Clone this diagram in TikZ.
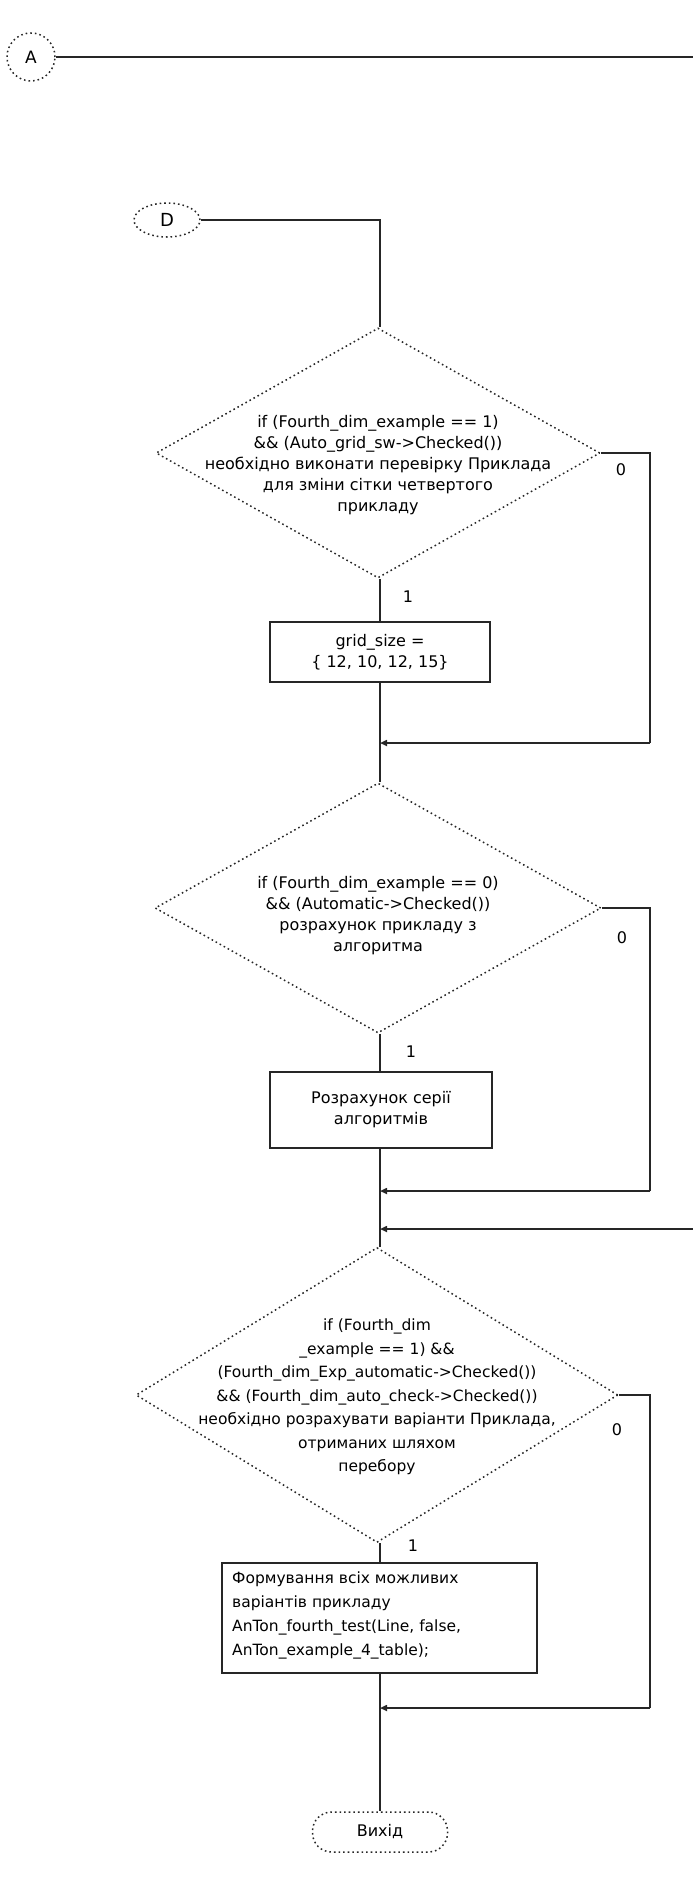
\documentclass[tikz,border=0pt]{standalone}
\usepackage{fontspec}
\setmainfont{DejaVu Sans}
\usetikzlibrary{shapes.geometric,arrows.meta}
\begin{document}
\begin{tikzpicture}[x=1pt,y=-1pt,
  ln/.style={line width=1.6pt,draw=black!85},
  arr/.style={ln,-{Triangle[length=7pt,width=6pt]}},
  dec/.style={diamond,draw=black!85,line width=1.5pt,dash pattern=on 1.6pt off 3pt,inner sep=0pt},
  txt/.style={align=center,font=\fontsize{16}{21}\selectfont,inner sep=0pt},
  procbox/.style={draw=black!85,line width=1.6pt,inner sep=0pt},
  conn/.style={draw=black!85,line width=1.5pt,dash pattern=on 1.6pt off 3pt,inner sep=0pt},
  lab/.style={font=\fontsize{16}{18}\selectfont,inner sep=0pt}]
\useasboundingbox (0,0) rectangle (693,1888);
% connectors A and D
\node[conn,circle,minimum size=48pt] (A) at (31,57) {};
\node[font=\fontsize{17}{18}\selectfont] at (A) {A};
\coordinate (aout) at (693,57);
\draw[ln] (A.east) -- (aout);
\node[conn,ellipse,minimum width=66pt,minimum height=34pt] (D) at (167,220) {};
\node[font=\fontsize{18}{18}\selectfont] at (D) {D};
% decision 1
\node[dec,minimum width=444pt,minimum height=250pt] (d1) at (378,453) {};
\node[txt] (d1t) at (378,465) {if (Fourth\_dim\_example == 1)\\ \&\& (Auto\_grid\_sw-{>}Checked())\\ необхідно виконати перевірку Приклада\\ для зміни сітки четвертого\\ прикладу};
\node[procbox,minimum width=220pt,minimum height=60pt] (b1) at (380,652) {};
\node[txt] (b1t) at (380,652) {grid\_size =\\ \{ 12, 10, 12, 15\}};
\coordinate (m1) at (380,743);
\coordinate (r1a) at (650,453);
\coordinate (r1b) at (650,743);
% decision 2
\node[dec,minimum width=446pt,minimum height=250pt] (d2) at (378,908) {};
\node[txt] (d2t) at (378,916) {if (Fourth\_dim\_example == 0)\\ \&\& (Automatic-{>}Checked())\\ розрахунок прикладу з\\ алгоритма};
\node[procbox,minimum width=222pt,minimum height=76pt] (b2) at (381,1110) {};
\node[txt] (b2t) at (381,1110) {Розрахунок серії\\ алгоритмів};
\coordinate (m2) at (380,1191);
\coordinate (r2a) at (650,908);
\coordinate (r2b) at (650,1191);
\coordinate (ain) at (693,1229);
\coordinate (m3) at (380,1229);
% decision 3
\node[dec,minimum width=482pt,minimum height=295pt] (d3) at (377,1395) {};
\node[txt,font=\fontsize{15.5}{23.5}\selectfont] (d3t) at (377,1397) {if (Fourth\_dim\\ \_example == 1) \&\&\\ (Fourth\_dim\_Exp\_automatic-{>}Checked())\\ \&\& (Fourth\_dim\_auto\_check-{>}Checked())\\ необхідно розрахувати варіанти Приклада,\\ отриманих шляхом\\ перебору};
\node[procbox,minimum width=315pt,minimum height=110pt] (b3) at (379.5,1618) {};
\node[txt,align=left,font=\fontsize{15.5}{24}\selectfont,anchor=north west] (b3t) at (232,1572) {Формування всіх можливих\\ варіантів прикладу\\ AnTon\_fourth\_test(Line, false,\\ AnTon\_example\_4\_table);};
\coordinate (m4) at (380,1708);
\coordinate (r3a) at (650,1395);
\coordinate (r3b) at (650,1708);
% terminator
\node[draw=black!85,line width=1.5pt,dash pattern=on 1.6pt off 3pt,rounded corners=19pt,minimum width=135pt,minimum height=40pt] (end) at (380,1832) {};
\node[txt] at (end) {Вихід};
% connectors
\coordinate (dtop) at (380,220);
\draw[ln] (D.east) -- (dtop) -- (d1.north -| dtop);
\draw[ln] (d1.south -| m1) -- (b1.north -| m1);
\draw[ln] (b1.south -| m1) -- (m1) -- (d2.north -| m1);
\draw[ln] (d1.east) -- (r1a) -- (r1b);
\draw[arr] (r1b) -- (m1);
\draw[ln] (d2.south -| m1) -- (b2.north -| m1);
\draw[ln] (b2.south -| m1) -- (m2) -- (d3.north -| m1);
\draw[ln] (d2.east) -- (r2a) -- (r2b);
\draw[arr] (r2b) -- (m2);
\draw[arr] (ain) -- (m3);
\draw[ln] (d3.south -| m1) -- (b3.north -| m1);
\draw[ln] (b3.south -| m1) -- (m4) -- (end.north);
\draw[ln] (d3.east) -- (r3a) -- (r3b);
\draw[arr] (r3b) -- (m4);
% branch labels
\node[lab] at (408,597) {1};
\node[lab] at (411,1052) {1};
\node[lab] at (413,1546) {1};
\node[lab] at (621,470) {0};
\node[lab] at (622,938) {0};
\node[lab] at (617,1430) {0};
\end{tikzpicture}
\end{document}
